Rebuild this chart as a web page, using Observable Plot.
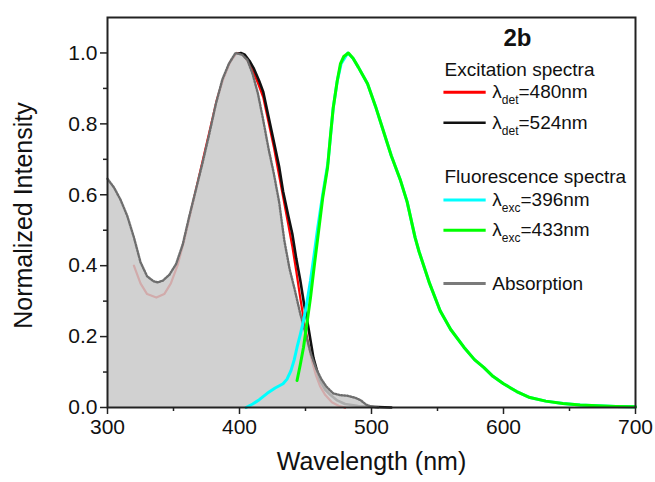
<!DOCTYPE html>
<html><head><meta charset="utf-8">
<script src="https://cdn.jsdelivr.net/npm/d3@7"></script>
<script src="https://cdn.jsdelivr.net/npm/@observablehq/plot@0.6"></script>
<style>
body{margin:0;background:#fff}
svg{font-family:"Liberation Sans",Arial,sans-serif}
</style>
</head><body><div id="chart"></div>
<script>
// Absorption
const absWl  = [300,305,310,315,320,325,330,335,338,342,347,352,357,362,367,372,377,382,387,392,397,402,406,410,414,418,422,426,430,434,438,442,446,450,454,458,462,466,471,476,482,488,492,496,500,505];
const absVal = [0.645,0.62,0.585,0.54,0.48,0.41,0.37,0.356,0.353,0.358,0.375,0.405,0.46,0.54,0.615,0.69,0.77,0.855,0.925,0.97,1.0,0.995,0.98,0.94,0.885,0.81,0.73,0.66,0.58,0.47,0.39,0.33,0.265,0.21,0.152,0.11,0.08,0.058,0.04,0.035,0.033,0.027,0.02,0.008,0.002,0.0];
// Excitation spectra, detection 480 nm (red)
const ex480Wl  = [320,325,330,337,343,348,353,358,363,368,373,378,383,388,393,398,402,406,410,414,418,422,426,430,433,437,440,443,446,449,452,455,458,461,465,470,475,480];
const ex480Val = [0.40,0.35,0.32,0.31,0.32,0.35,0.40,0.47,0.55,0.63,0.71,0.79,0.87,0.93,0.975,1.0,0.997,0.978,0.95,0.915,0.875,0.805,0.735,0.655,0.595,0.515,0.455,0.385,0.31,0.24,0.18,0.13,0.09,0.06,0.035,0.015,0.005,0.0];
// Excitation spectra, detection 524 nm (black)
const ex524Wl  = [399,401,404,408,411,415,418,422,426,430,433,437,440,443,446,449,452,456,459,461,465,469,474,480,490,500,515];
const ex524Val = [0.998,1.0,0.995,0.975,0.955,0.92,0.89,0.82,0.75,0.68,0.61,0.54,0.49,0.42,0.36,0.29,0.23,0.14,0.10,0.076,0.05,0.035,0.02,0.01,0.004,0.002,0.0];
// Fluorescence spectra, excitation 396 nm (cyan)
const fl396Wl  = [405,410,415,421,427,433,436,439,441.5,443.6,446,448.5,451,453.8,456.5,459,463,467,471,474,477,482,486,490,497,503,509,515,522,527,533,536,544,552,560,570,578,585,592,600,610,620,632,645,658,671,685,700];
const fl396Val = [0.0,0.01,0.022,0.04,0.055,0.067,0.08,0.104,0.135,0.17,0.205,0.245,0.295,0.358,0.43,0.5,0.6,0.69,0.845,0.92,0.97,1.0,0.985,0.96,0.913,0.85,0.78,0.71,0.64,0.58,0.48,0.44,0.35,0.273,0.22,0.17,0.135,0.113,0.088,0.067,0.045,0.028,0.018,0.011,0.007,0.005,0.003,0.002];
// Fluorescence spectra, excitation 433 nm (green)
const fl433Wl  = [443.6,446,448.5,451,453.8,457,460,463,466.7,469,471,474,476.5,479,482.5,486,490,493,497,503,509,515,522,527,533,536,544,552,560,570,578,585,592,600,610,620,632,645,658,671,685,700];
const fl433Val = [0.076,0.12,0.17,0.235,0.31,0.41,0.5,0.59,0.676,0.77,0.845,0.92,0.97,0.99,1.0,0.985,0.96,0.94,0.913,0.85,0.78,0.71,0.64,0.58,0.48,0.44,0.35,0.273,0.22,0.17,0.135,0.113,0.088,0.067,0.045,0.028,0.018,0.011,0.007,0.005,0.003,0.002];

const xTicks = [300,400,500,600,700];
const xMinor = [350,450,550,650];
const yTicks = [0,0.2,0.4,0.6,0.8,1.0];
const yMinor = [0.1,0.3,0.5,0.7,0.9];

const xTitle = "Wavelength (nm)";
const yTitle = "Normalized Intensity";
const panelLabel = "2b";
const groupTitles = ["Excitation spectra","Fluorescence spectra"];
const seriesNames = ["λ|det|=480nm","λ|det|=524nm","λ|exc|=396nm","λ|exc|=433nm","Absorption"];
const seriesColors = ["#ff0000","#111111","#00ffff","#00ff00","#7a7a7a"];

const toPts = (wl, v) => wl.map((w,i)=>({x:w, y:v[i]}));
const abs = toPts(absWl, absVal);
const ex480 = toPts(ex480Wl, ex480Val);
const ex524 = toPts(ex524Wl, ex524Val);
const fl396 = toPts(fl396Wl, fl396Val);
const fl433 = toPts(fl433Wl, fl433Val);

// legend placement in data coordinates
const legSwatchX1 = 554.5, legSwatchX2 = 586.5, legTextX = 591.5, legTitleX = 555.3;
const legY = [0.889, 0.803, 0.585, 0.50, 0.35];
const legTitleY = [0.953, 0.651];
const legend = seriesNames.map((n,i)=>({name:n, color:seriesColors[i], y:legY[i]}));
const titles = groupTitles.map((t,i)=>({t, y:legTitleY[i]}));

const chart = Plot.plot({
  width: 655, height: 482,
  marginLeft: 107, marginRight: 20, marginTop: 17, marginBottom: 75,
  x: {domain:[300,700]},
  y: {domain:[0,1.1]},
  style: {fontFamily:"Liberation Sans, Arial, sans-serif", color:"#111", background:"#fff"},
  marks: [
    Plot.line(ex480, {x:"x", y:"y", stroke:"#ff0000", strokeWidth:2.2}),
    Plot.line(ex524, {x:"x", y:"y", stroke:"#111", strokeWidth:2.6}),
    Plot.areaY(abs, {x:"x", y:"y", fill:"#c9c9c9", fillOpacity:0.85}),
    Plot.line(abs, {x:"x", y:"y", stroke:"#6e6e6e", strokeWidth:2.4, strokeDasharray:"1.5,1.5"}),
    Plot.line(fl396, {x:"x", y:"y", stroke:"#00ffff", strokeWidth:3}),
    Plot.line(fl433, {x:"x", y:"y", stroke:"#00ff00", strokeWidth:3}),
    Plot.frame({stroke:"#222", strokeWidth:2}),
    Plot.axisX({ticks:xTicks, tickSize:7, tickPadding:5, fontSize:21, label:null, tickFormat:d=>d, stroke:"#222", strokeWidth:1.5}),
    Plot.axisX({ticks:xMinor, tickSize:4, label:null, tickFormat:()=> "", stroke:"#222", strokeWidth:1.5}),
    Plot.axisY({ticks:yTicks, tickSize:7, tickPadding:3, fontSize:21, label:null, tickFormat:d3.format(".1f"), stroke:"#222", strokeWidth:1.5}),
    Plot.axisY({ticks:yMinor, tickSize:4, label:null, tickFormat:()=> "", stroke:"#222", strokeWidth:1.5}),
    Plot.text([xTitle], {frameAnchor:"bottom", dy:62, fontSize:25, fill:"#111"}),
    Plot.text([yTitle], {frameAnchor:"left", textAnchor:"middle", rotate:-90, dx:-84, dy:3, fontSize:25, fill:"#111"}),
    // legend
    Plot.text([panelLabel], {x:[610.6], y:[1.04], fontSize:24, fontWeight:"bold", fill:"#111"}),
    Plot.text(titles, {x:legTitleX, y:"y", text:"t", textAnchor:"start", fontSize:19, fill:"#111"}),
    Plot.link(legend, {x1:legSwatchX1, x2:legSwatchX2, y1:"y", y2:"y", stroke:"color",
      strokeWidth:(d,i)=> i===1 ? 2.5 : 3, strokeDasharray:(d,i)=> (i===1||i===4) ? "2,1" : null}),
    Plot.text(legend, {x:legTextX, y:"y", text:"name", textAnchor:"start", fontSize:19, fill:"#111"})
  ]
});
document.getElementById("chart").appendChild(chart);

// subscripts in legend labels
d3.select(chart).selectAll('text').each(function(){
  const t = d3.select(this);
  const s = t.text();
  if (s.indexOf("|") < 0) return;
  const parts = s.split("|");
  t.text("");
  t.append("tspan").text(parts[0]);
  t.append("tspan").attr("dy", 6).attr("font-size", 12).text(parts[1]);
  t.append("tspan").attr("dy", -6).text(parts[2]);
});
</script>
</body></html>
